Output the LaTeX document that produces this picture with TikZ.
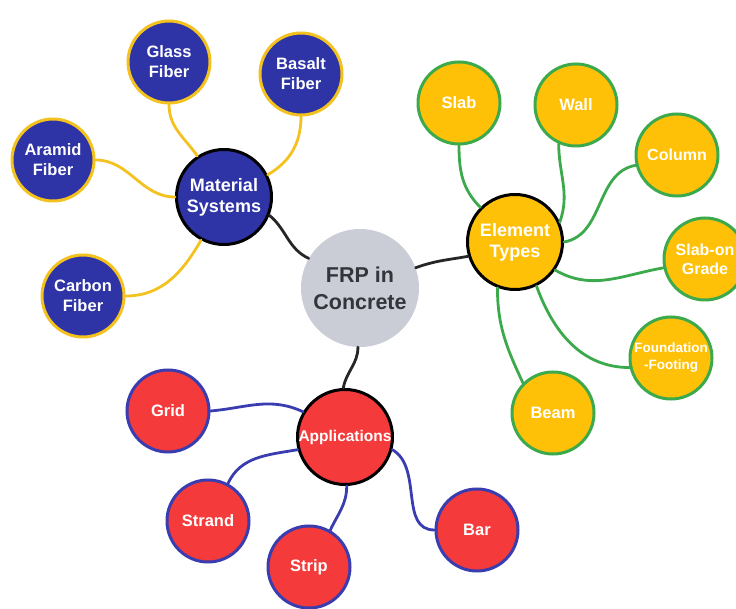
\documentclass[tikz,border=0pt]{standalone}
\usepackage{fontspec}
\setmainfont{Liberation Sans}
\usepackage{tikz}
\usepackage{xcolor}
\usetikzlibrary{topaths}
\definecolor{frpgray}{HTML}{CACDD6}
\definecolor{frptext}{HTML}{33353B}
\definecolor{navy}{HTML}{2E33A6}
\definecolor{gold}{HTML}{F4C21E}
\definecolor{amber}{HTML}{FFC107}
\definecolor{leafgreen}{HTML}{3CAA4C}
\definecolor{tomato}{HTML}{F43A3A}
\definecolor{royal}{HTML}{3A3DB0}
\tikzstyle{hub} = [circle, minimum size=95pt, inner sep=0pt, align=center,
                   draw=black, line width=3pt, text=white,
                   font=\bfseries\fontsize{18}{21}\selectfont]
\tikzstyle{leaf} = [circle, minimum size=82pt, inner sep=0pt, align=center,
                    line width=3pt, text=white,
                    font=\bfseries\fontsize{16.5}{20}\selectfont]
\tikzstyle{branch} = [line width=2.8pt, line cap=round]

\begin{document}
\begin{tikzpicture}[x=1pt, y=1pt]
    \useasboundingbox (0,0) rectangle (736,608);

    \node[circle, minimum size=118pt, inner sep=0pt, fill=frpgray, text=frptext,
          align=center, font=\bfseries\fontsize{21.5}{27}\selectfont]
          (frp) at (360,320) {FRP in\\Concrete};

    % material systems
    \node[hub, fill=navy] (mat) at (224,411) {Material\\Systems};
    \node[leaf, fill=navy, draw=gold] (glass) at (169,546) {Glass\\Fiber};
    \node[leaf, fill=navy, draw=gold] (basalt) at (301,534) {Basalt\\Fiber};
    \node[leaf, fill=navy, draw=gold] (aramid) at (53,448) {Aramid\\Fiber};
    \node[leaf, fill=navy, draw=gold] (carbon) at (83,312) {Carbon\\Fiber};

    % element types
    \node[hub, fill=amber] (elem) at (515,366) {Element\\Types};
    \node[leaf, fill=amber, draw=leafgreen] (slab) at (459,505) {Slab};
    \node[leaf, fill=amber, draw=leafgreen] (wall) at (576,503) {Wall};
    \node[leaf, fill=amber, draw=leafgreen, font=\bfseries\fontsize{16}{19}\selectfont]
          (column) at (677,453) {Column};
    \node[leaf, fill=amber, draw=leafgreen, font=\bfseries\fontsize{16}{19}\selectfont]
          (sog) at (705,349) {Slab-on\\Grade};
    \node[leaf, fill=amber, draw=leafgreen, font=\bfseries\fontsize{13.5}{17}\selectfont]
          (found) at (671,250) {Foundation\\-Footing};
    \node[leaf, fill=amber, draw=leafgreen] (beam) at (553,195) {Beam};

    % applications
    \node[hub, fill=tomato, font=\bfseries\fontsize{15.5}{18}\selectfont]
          (app) at (345,171) {Applications};
    \node[leaf, fill=tomato, draw=royal] (grid) at (168,197) {Grid};
    \node[leaf, fill=tomato, draw=royal] (strand) at (208,87) {Strand};
    \node[leaf, fill=tomato, draw=royal] (strip) at (309,41) {Strip};
    \node[leaf, fill=tomato, draw=royal] (bar) at (477,78) {Bar};

    \draw[branch, black!85] (mat.-22) to[out=-40, in=155] (frp.150);
    \draw[branch, black!85] (frp.20) to[out=20, in=190] (elem.197);
    \draw[branch, black!85] (frp.-92) to[out=-90, in=80] (app.92);

    \draw[branch, gold] (glass.-90) to[out=-90, in=125] (mat.123);
    \draw[branch, gold] (basalt.-90) to[out=-90, in=30] (mat.27);
    \draw[branch, gold] (aramid.0) to[out=0, in=180] (mat.180);
    \draw[branch, gold] (carbon.0) to[out=0, in=-120] (mat.-118);

    \draw[branch, leafgreen] (slab.-90) to[out=-90, in=135] (elem.135);
    \draw[branch, leafgreen] (wall.-114) to[out=-90, in=70] (elem.24);
    \draw[branch, leafgreen] (column.194) to[out=190, in=10] (elem.0);
    \draw[branch, leafgreen] (sog.192) to[out=190, in=-30] (elem.-35);
    \draw[branch, leafgreen] (found.193) to[out=180, in=-70] (elem.-64);
    \draw[branch, leafgreen] (beam.135) to[out=115, in=-90] (elem.-111);

    \draw[branch, royal] (grid.0) to[out=5, in=155] (app.149);
    \draw[branch, royal] (strand.62) to[out=65, in=190] (app.195);
    \draw[branch, royal] (strip.60) to[out=65, in=-90] (app.-88);
    \draw[branch, royal] (bar.180) to[out=180, in=-30] (app.-15);
\end{tikzpicture}
\end{document}
